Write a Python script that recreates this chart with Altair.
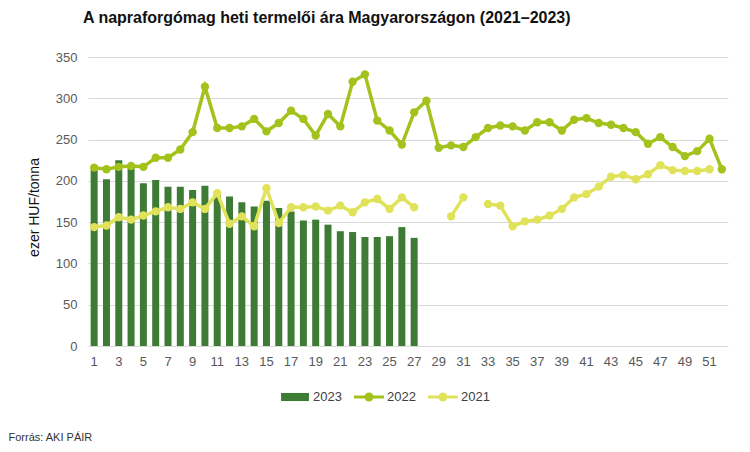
import altair as alt
import pandas as pd

weeks = list(range(1, 53))

y2023 = [213, 202, 225, 220, 197, 201, 193, 193, 189, 194,
         186, 181, 174, 169, 176, 167, 163, 152, 153, 147,
         139, 138, 132, 132, 133, 144, 131]

y2022 = [216, 214, 217, 218, 217, 228, 228, 238, 259, 314,
         264, 264, 266, 275, 260, 270, 285, 275, 255, 281,
         266, 320, 329, 273, 261, 244, 283, 297, 240, 243,
         241, 253, 264, 267, 266, 261, 271, 271, 261, 274,
         276, 270, 268, 264, 259, 245, 253, 241, 230, 236,
         251, 214]

y2021 = [144, 146, 156, 153, 158, 163, 168, 166, 174, 166,
         185, 148, 157, 145, 191, 149, 168, 168, 169, 164,
         170, 162, 174, 178, 166, 180, 168, None, None, 157,
         180, None, 172, 170, 145, 151, 153, 158, 166, 180,
         184, 193, 205, 207, 202, 208, 219, 213, 212, 212,
         214, None]

series = ["2023", "2022", "2021"]
colors = ["#3e7b35", "#a4c21c", "#e0e35a"]

TITLE = "A napraforgómag heti termelői ára Magyarországon (2021–2023)"
Y_TITLE = "ezer HUF/tonna"
SOURCE = "Forrás: AKI PÁIR"

df23 = pd.DataFrame({"week": weeks[:len(y2023)], "value": y2023})
df22 = pd.DataFrame({"week": weeks, "value": y2022})
df21 = pd.DataFrame({"week": weeks, "value": pd.Series(y2021, dtype="float")})
dfleg = pd.DataFrame({"series": series, "value": pd.Series([None] * 3, dtype="float")})

FONT = "Liberation Sans"

xscale = alt.Scale(domain=weeks, paddingInner=0, paddingOuter=0)
xaxis = alt.Axis(values=[w for w in weeks if w % 2 == 1], labelAngle=0,
                 labelFontSize=13, labelColor="#595959", labelPadding=9,
                 domain=False, ticks=False, grid=False,
                 title=SOURCE, titleX=-80, titleY=91, titleAlign="left",
                 titleBaseline="middle",
                 titleAnchor="start", titleFontSize=11, titleFontWeight="normal",
                 titleColor="#333333")
yscale = alt.Scale(domain=[0, 350])
yaxis = alt.Axis(values=list(range(0, 351, 50)), labelFontSize=13,
                 labelColor="#595959", labelPadding=11, domain=False, ticks=False,
                 grid=True, gridColor="#d9d9d9", title=Y_TITLE,
                 titleFontSize=14, titleFontWeight="normal", titleColor="#111111",
                 titleX=-54, titleY=150, titleAngle=-90, titleAlign="center",
                 titleBaseline="middle")

X = alt.X("week:O", scale=xscale, axis=xaxis)
Y = alt.Y("value:Q", scale=yscale, axis=yaxis)

bars = alt.Chart(df23).mark_bar(color=colors[0], size=7).encode(x=X, y=Y)

line22 = alt.Chart(df22).mark_line(color=colors[1], strokeWidth=3.5).encode(x=X, y=Y)
pts22 = alt.Chart(df22).mark_point(color=colors[1], filled=True, size=70, opacity=1).encode(x=X, y=Y)

line21 = alt.Chart(df21).mark_line(color=colors[2], strokeWidth=3.5,
                                   invalid="break-paths-show-domains").encode(x=X, y=Y)
pts21 = alt.Chart(df21).mark_point(color=colors[2], filled=True, size=70, opacity=1).encode(x=X, y=Y)

rect_path = "M-0.93,-0.27H0.93V0.27H-0.93Z"
line_path = ("M-1,-0.1H1V0.1H-1Z "
             "M0.3,0A0.3,0.3 0 1,1 -0.3,0A0.3,0.3 0 1,1 0.3,0Z")

legend_layer = alt.Chart(dfleg).mark_point(filled=True, opacity=1, strokeWidth=0).encode(
    y=alt.Y("value:Q", scale=yscale, axis=yaxis),
    color=alt.Color("series:N", scale=alt.Scale(domain=series, range=colors),
                    legend=alt.Legend(title=None, orient="none", direction="horizontal",
                                      legendX=192, legendY=325, symbolSize=900,
                                      labelFontSize=13, labelColor="#404040",
                                      labelOffset=3, columnPadding=12,
                                      symbolStrokeWidth=0)),
    shape=alt.Shape("series:N", scale=alt.Scale(domain=series,
                                                range=[rect_path, line_path, line_path]),
                    legend=None),
)

chart = alt.layer(bars, line22, line21, pts22, pts21, legend_layer).properties(
    width=640,
    height=289,
    autosize=alt.AutoSizeParams(type="none"),
    padding={"left": 80, "top": 49, "right": 14, "bottom": 100},
    title=alt.TitleParams(TITLE, anchor="start", frame="group", dx=-5, offset=25,
                          fontSize=16, fontWeight="bold", color="#111111", font=FONT),
).configure(font=FONT).configure_view(stroke=None)

chart.save("out.html", embed_options={"renderer": "svg", "actions": False})
